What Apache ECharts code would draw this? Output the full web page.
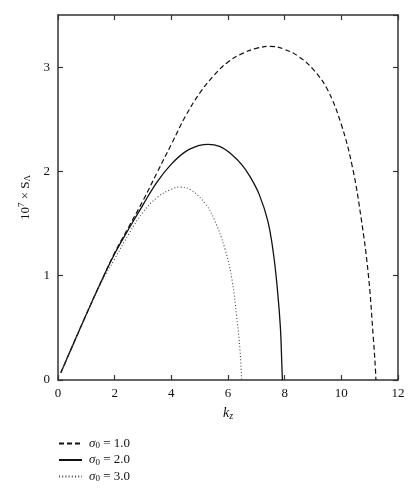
<!DOCTYPE html>
<html>
<head>
<meta charset="utf-8">
<script src="https://cdn.jsdelivr.net/npm/echarts@6/dist/echarts.min.js"></script>
<style>
html,body{margin:0;padding:0;background:#fff;}
#c{width:420px;height:500px;}
</style>
</head>
<body>
<div id="c"></div>
<script>
// sigma0 = 1.0 (dashed)
var kz1 = [0.1, 0.5, 1.0, 1.5, 2.0, 2.5, 3.0, 3.5, 4.0, 4.5, 5.0, 5.5, 6.0, 6.5, 7.0, 7.5, 8.0, 8.5, 9.0, 9.5, 10.0, 10.4, 10.7, 10.95, 11.13, 11.2, 11.22];
var s1  = [0.07, 0.32, 0.63, 0.93, 1.22, 1.47, 1.72, 1.99, 2.26, 2.53, 2.75, 2.92, 3.05, 3.13, 3.18, 3.20, 3.17, 3.10, 2.98, 2.79, 2.45, 2.03, 1.55, 1.02, 0.40, 0.12, 0.0];
// sigma0 = 2.0 (solid)
var kz2 = [0.1, 0.5, 1.0, 1.5, 2.0, 2.5, 3.0, 3.5, 4.0, 4.5, 5.0, 5.3, 5.7, 6.1, 6.5, 6.8, 7.1, 7.4, 7.6, 7.75, 7.85, 7.9, 7.92];
var s2  = [0.07, 0.32, 0.63, 0.93, 1.21, 1.45, 1.68, 1.90, 2.07, 2.19, 2.25, 2.26, 2.24, 2.17, 2.06, 1.94, 1.78, 1.53, 1.22, 0.85, 0.50, 0.15, 0.0];
// sigma0 = 3.0 (dotted)
var kz3 = [0.1, 0.5, 1.0, 1.5, 2.0, 2.5, 3.0, 3.5, 4.0, 4.3, 4.7, 5.2, 5.5, 5.9, 6.15, 6.3, 6.42, 6.48];
var s3  = [0.07, 0.32, 0.63, 0.92, 1.16, 1.40, 1.61, 1.75, 1.83, 1.85, 1.82, 1.69, 1.55, 1.25, 0.95, 0.62, 0.30, 0.0];

var seriesNames = ['σ0 = 1.0', 'σ0 = 2.0', 'σ0 = 3.0'];
var legendRich = ['{i|σ}{s|0}{t| = 1.0}', '{i|σ}{s|0}{t| = 2.0}', '{i|σ}{s|0}{t| = 3.0}'];

function pairs(xs, ys){ return xs.map(function(x,i){ return [x, ys[i]]; }); }

var FONT = '"Liberation Serif", "DejaVu Serif", serif';
var AX = '#333';

var chart = echarts.init(document.getElementById('c'));
function axisCommon(){
  return {
    axisLine: {show: true, onZero: false, lineStyle: {color: AX, width: 1.5}},
    axisTick: {show: true, inside: true, length: 5, lineStyle: {color: AX, width: 1.2}},
    splitLine: {show: false}
  };
}
chart.setOption({
  animation: false,
  backgroundColor: '#fff',
  grid: {left: 58, top: 15, right: 22, bottom: 120, containLabel: false},
  xAxis: [
    Object.assign({
      type: 'value', min: 0, max: 12, interval: 2, position: 'bottom',
      name: '{k|k}{z|z}', nameLocation: 'middle', nameGap: 25,
      nameTextStyle: {rich: {
        k: {fontFamily: FONT, fontStyle: 'italic', fontSize: 14, color: '#111'},
        z: {fontFamily: FONT, fontStyle: 'italic', fontSize: 10, color: '#111', verticalAlign: 'bottom', padding: [6,0,0,0]}
      }},
      axisLabel: {fontFamily: FONT, fontSize: 13, color: '#111', margin: 7}
    }, axisCommon()),
    Object.assign({
      type: 'value', min: 0, max: 12, interval: 2, position: 'top',
      axisLabel: {show: false}
    }, axisCommon())
  ],
  yAxis: [
    Object.assign({
      type: 'value', min: 0, max: 3.5, interval: 1, position: 'left',
      name: '{n|10}{p|7}{n| × S}{b|Λ}', nameLocation: 'middle', nameGap: 23, nameRotate: 90,
      nameTextStyle: {rich: {
        n: {fontFamily: FONT, fontSize: 13, color: '#111'},
        p: {fontFamily: FONT, fontSize: 9, color: '#111', verticalAlign: 'top', padding: [0,0,6,0]},
        b: {fontFamily: FONT, fontSize: 9, color: '#111', verticalAlign: 'bottom', padding: [6,0,0,0]}
      }},
      axisLabel: {fontFamily: FONT, fontSize: 13, color: '#111', margin: 8, showMaxLabel: false,
        formatter: function(v){ return (Math.abs(v - Math.round(v)) < 1e-9) ? String(v) : ''; }}
    }, axisCommon()),
    Object.assign({
      type: 'value', min: 0, max: 3.5, interval: 1, position: 'right',
      axisLabel: {show: false}
    }, axisCommon())
  ],
  legend: {
    orient: 'vertical', left: 53, top: 432,
    itemWidth: 23, itemHeight: 10, itemGap: 3,
    itemStyle: {color: 'rgba(0,0,0,0)', borderWidth: 0, opacity: 0},
    data: seriesNames,
    formatter: function(name){ return legendRich[seriesNames.indexOf(name)]; },
    textStyle: {padding: [0,0,0,2], rich: {
      i: {fontFamily: FONT, fontStyle: 'italic', fontSize: 13, color: '#111'},
      s: {fontFamily: FONT, fontSize: 9, color: '#111', verticalAlign: 'bottom', padding: [5,0,0,0]},
      t: {fontFamily: FONT, fontSize: 13, color: '#111'}
    }}
  },
  series: [
    {name: seriesNames[0], type: 'line', data: pairs(kz1, s1), showSymbol: false, symbol: 'none',
     smooth: 0.4, xAxisIndex: 0, yAxisIndex: 0,
     lineStyle: {color: '#111', width: 1.2, type: [5, 3]}, itemStyle: {color: '#111'}},
    {name: seriesNames[1], type: 'line', data: pairs(kz2, s2), showSymbol: false, symbol: 'none',
     smooth: 0.4, xAxisIndex: 0, yAxisIndex: 0,
     lineStyle: {color: '#111', width: 1.3, type: 'solid'}, itemStyle: {color: '#111'}},
    {name: seriesNames[2], type: 'line', data: pairs(kz3, s3), showSymbol: false, symbol: 'none',
     smooth: 0.4, xAxisIndex: 0, yAxisIndex: 0,
     lineStyle: {color: '#444', width: 1.1, type: [1, 2.2]}, itemStyle: {color: '#444'}}
  ]
});
</script>
</body>
</html>
